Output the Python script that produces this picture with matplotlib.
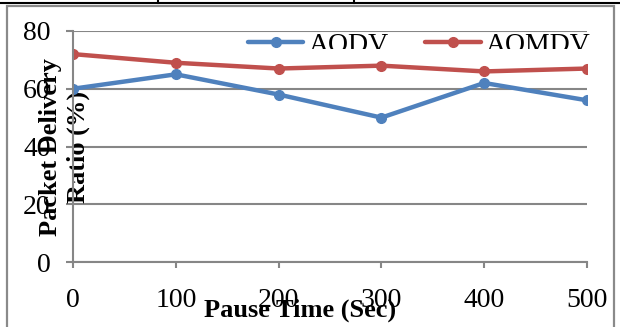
import matplotlib.pyplot as plt
from matplotlib.patches import Rectangle
from matplotlib.lines import Line2D
from matplotlib.transforms import Bbox

plt.rcParams['font.family'] = ['Liberation Serif', 'DejaVu Serif']

# data
pause_time = [0, 100, 200, 300, 400, 500]
aodv = [60, 65, 58, 50, 62, 56]
aomdv = [72, 69, 67, 68, 66, 67]
y_ticks = [0, 20, 40, 60, 80]

W, H = 620, 327
fig = plt.figure(figsize=(W / 100, H / 100), dpi=100)

# page decoration: table border above and grey chart frame
fig.add_artist(Line2D([0, 1], [1 - 3 / H, 1 - 3 / H], color='black', lw=1.5))
for xv in [158, 354]:
    fig.add_artist(Line2D([xv / W, xv / W], [1, 1 - 3 / H], color='black', lw=1.5))
fig.add_artist(Rectangle((7 / W, -0.05), (614 - 7) / W, 1.05 - 6 / H,
                         fill=False, edgecolor='#8a8a8a', lw=1.6))

grey = '#868686'
ax = fig.add_axes([73 / W, 1 - 262 / H, (587 - 73) / W, (262 - 31) / H])
ax.plot(pause_time, aodv, color='#4F81BD', lw=3.2, marker='o', ms=7, label='AODV',
        solid_capstyle='round')
ax.plot(pause_time, aomdv, color='#C0504D', lw=3.2, marker='o', ms=7, label='AOMDV',
        solid_capstyle='round')

ax.set_xlim(0, 500)
ax.set_ylim(0, 80)
ax.set_xticks(pause_time)
ax.set_yticks(y_ticks)
ax.yaxis.grid(True, color=grey, lw=1.5)
ax.set_axisbelow(True)
for s in ['top', 'right']:
    ax.spines[s].set_visible(False)
for s in ['left', 'bottom']:
    ax.spines[s].set_color(grey)
    ax.spines[s].set_linewidth(1.5)
ax.tick_params(axis='x', length=4.5, width=1.5, color=grey, labelsize=20, pad=14)
ax.tick_params(axis='y', length=5, width=1.5, color=grey, labelsize=20, pad=11)

ax.set_ylabel('Packet Delivery\nRatio (%)', fontsize=19, fontweight='bold',
              linespacing=1.25)
ax.yaxis.set_label_coords(17 / (587 - 73), 0.5)
fig.text(300 / W, 1 - 310 / H, 'Pause Time (Sec)', fontsize=19, fontweight='bold',
         ha='center', va='center')

leg = ax.legend(loc='upper right', bbox_to_anchor=(1.01, 1.0), ncol=2, fontsize=20,
                frameon=False, handlelength=2.0, handletextpad=0.18,
                columnspacing=1.33, borderpad=0.0, borderaxespad=0.05)
fig.canvas.draw()
clip = Bbox.from_extents(0, H - 49, W, H)
for t in leg.get_texts():
    t.set_clip_box(clip)
    t.set_clip_on(True)

fig.savefig('out.png', dpi=100)
